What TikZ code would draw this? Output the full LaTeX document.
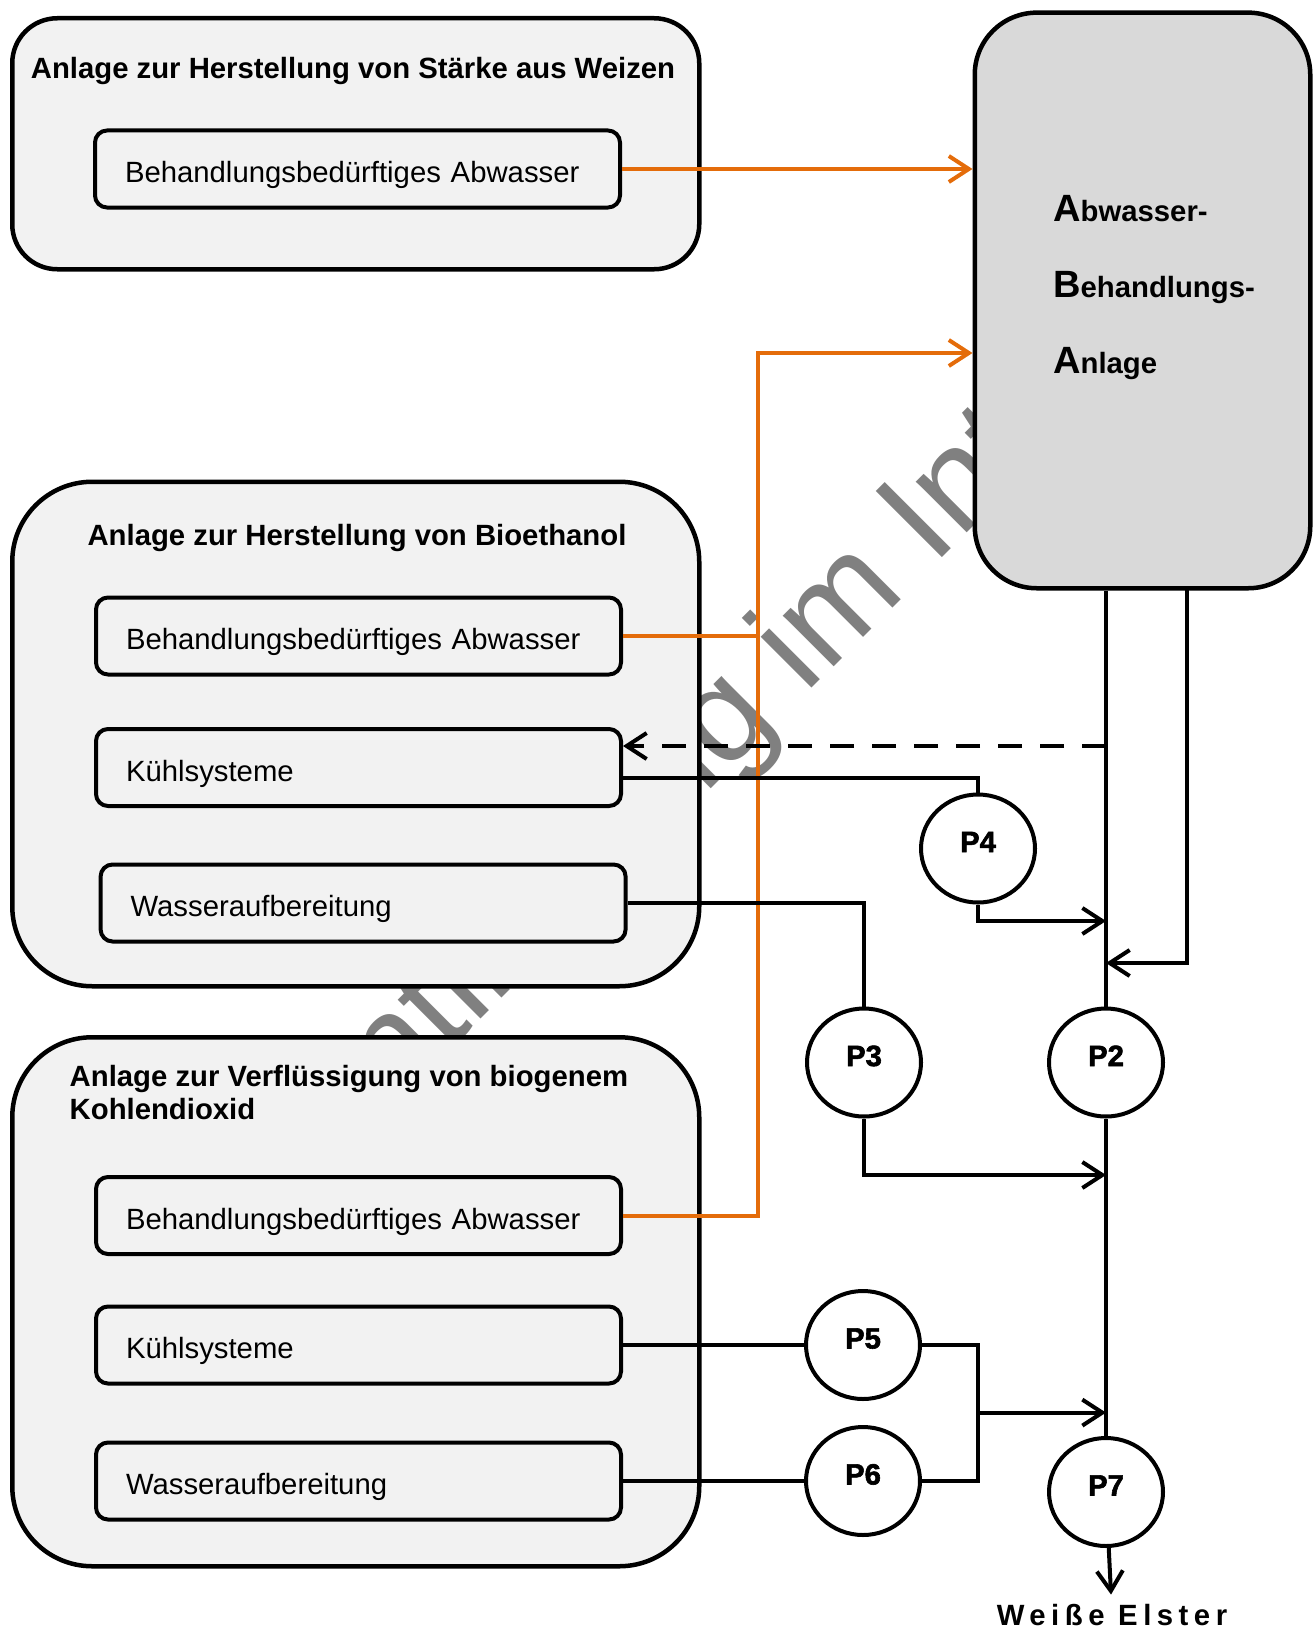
\documentclass[tikz,border=0pt]{standalone}
\usepackage{fontspec}
\setmainfont{Liberation Sans}
\usetikzlibrary{arrows.meta,shapes.geometric}
\definecolor{floworange}{HTML}{E46C0A}
\definecolor{plantgray}{HTML}{F2F2F2}
\definecolor{wwtpgray}{HTML}{D9D9D9}
\definecolor{markgray}{HTML}{808080}
\newcommand\bigfirst[1]{{\fontsize{38}{76.3}\selectfont #1}}
\tikzset{
  plant/.style={draw, fill=plantgray, line width=4.5pt, anchor=north west, inner sep=0pt},
  unit/.style={draw, fill=plantgray, line width=4pt, rounded corners=12pt, anchor=west,
    minimum height=77pt, text width=465pt, inner xsep=30pt, align=left,
    text height=27pt, text depth=0pt, font=\fontsize{29.3}{33}\selectfont},
  pump/.style={draw, ellipse, fill=white, line width=4pt, minimum width=114pt,
    minimum height=108pt, inner sep=0pt, text height=21pt, text depth=14pt,
    font=\fontsize{29.3}{33}\selectfont\bfseries\addfontfeature{FakeBold=2}},
  head/.style={inner sep=0pt, font=\fontsize{29.3}{33}\selectfont\bfseries},
  pipe/.style={line width=4pt},
  flow/.style={line width=4pt, draw=floworange}
}
\begin{document}
\begin{tikzpicture}[x=1pt, y=-1pt, >={Straight Barb[length=20pt,width=26pt]}]
  \useasboundingbox (0,0) rectangle (1314,1627);
  \node[rotate=45, anchor=base west, inner sep=0pt, text=markgray, font=\fontsize{136}{136}\selectfont] (mark) at (91,1409) {Veröffentlichung im Internet};

  \node[plant, rounded corners=45pt, minimum width=687pt, minimum height=251pt] (starch) at (10,16) {};
  \node[plant, rounded corners=80pt, minimum width=687pt, minimum height=504.5pt] (ethanol) at (10,479.5) {};
  \node[plant, rounded corners=80pt, minimum width=687pt, minimum height=529pt] (cotwo) at (10,1035) {};
  \node[plant, fill=wwtpgray, rounded corners=62pt, minimum width=335.5pt, minimum height=575.6pt] (wwtp) at (972.5,10.4) {};

  \node[head, anchor=base] (starchhead) at (353,78.5) {Anlage zur Herstellung von Stärke aus Weizen};
  \node[head, anchor=base] (ethanolhead) at (357,545.5) {Anlage zur Herstellung von Bioethanol};
  \node[head, anchor=north west, align=left] (cotwohead) at (69.5,1065.5) {Anlage zur Verflüssigung von biogenem\\Kohlendioxid};
  \node[anchor=north west, align=left, inner sep=0pt, font=\fontsize{29.3}{76.3}\selectfont\bfseries] (wwtplabel) at (1053,195) {\bigfirst{A}bwasser-\\\bigfirst{B}ehandlungs-\\\bigfirst{A}nlage};

  \node[unit] (starchww) at (93,169) {Behandlungsbedürftiges Abwasser};
  \node[unit] (ethanolww) at (94,636) {Behandlungsbedürftiges Abwasser};
  \node[unit] (ethanolcool) at (94,767.5) {Kühlsysteme};
  \node[unit] (ethanolwater) at (98.6,903) {Wasseraufbereitung};
  \node[unit] (cotwoww) at (94,1215.5) {Behandlungsbedürftiges Abwasser};
  \node[unit] (cotwocool) at (94,1345) {Kühlsysteme};
  \node[unit] (cotwowater) at (94,1481) {Wasseraufbereitung};

  \node[pump] (p4) at (978,848.5) {P4};
  \node[pump] (p3) at (864,1062.5) {P3};
  \node[pump] (p2) at (1106,1062.5) {P2};
  \node[pump] (p5) at (863,1345) {P5};
  \node[pump] (p6) at (863,1481) {P6};
  \node[pump] (p7) at (1106,1492) {P7};
  \node[anchor=base, inner xsep=0pt, inner ysep=9pt, font=\fontsize{29.3}{33}\selectfont\bfseries\addfontfeature{LetterSpace=18.8}] (elster) at (1112,1625) {Weiße Elster};

  \coordinate (wwtpout) at (wwtp.south -| p2);
  \coordinate (wwtpret) at (1187,586);
  \coordinate (dashtap) at (1106,746);
  \coordinate (in4) at (1106,921);
  \coordinate (inret) at (1106,963);
  \coordinate (in3) at (1106,1175);
  \coordinate (merge) at (978,1412.6);
  \coordinate (in56) at (1106,1412.6);
  \coordinate (obus) at (758,353);

  \draw[flow,->] (starchww.east) -- (starchww.east -| wwtp.west);
  \draw[flow] (ethanolww.east) -- (ethanolww.east -| obus);
  \draw[flow,->] (cotwoww.east) -| (obus) -- (obus -| wwtp.west);

  \draw[pipe] (wwtpout) -- (p2);
  \draw[pipe,->] (wwtpret) |- (inret);
  \draw[pipe, dash pattern=on 24pt off 18pt, ->] (dashtap) -- (ethanolcool.east |- dashtap);
  \draw[pipe] ([yshift=-10.5pt]ethanolcool.east) -| (p4);
  \draw[pipe,->] (p4) |- (in4);
  \draw[pipe] (ethanolwater.east) -| (p3);
  \draw[pipe,->] (p3) |- (in3);
  \draw[pipe] (p2) -- (p7);
  \draw[pipe] (cotwocool.east) -- (p5);
  \draw[pipe] (cotwowater.east) -- (p6);
  \draw[pipe] (p5) -| (merge) |- (p6);
  \draw[pipe,->] (merge) -- (in56);
  \draw[pipe,->] (p7) -- (elster);
\end{tikzpicture}
\end{document}
